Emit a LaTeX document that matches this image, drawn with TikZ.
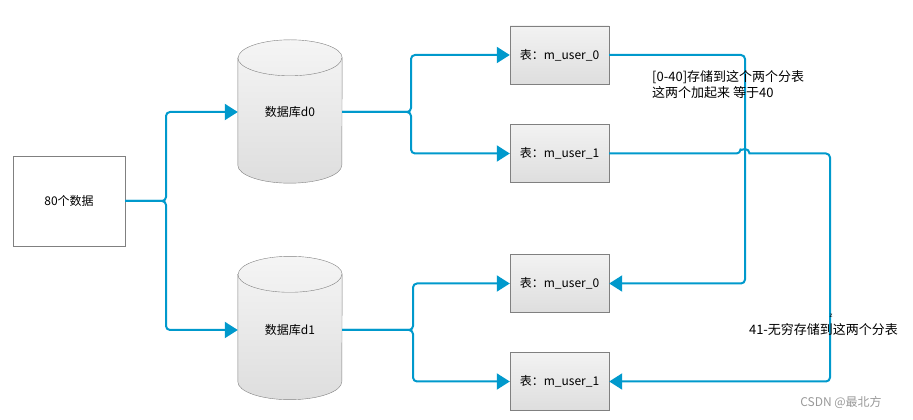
\documentclass[tikz,border=0pt]{standalone}
\usepackage{fontspec}
\setmainfont{Noto Sans CJK SC}
\usepackage{tikz}
\usetikzlibrary{arrows.meta,positioning,calc}
\definecolor{linkblue}{HTML}{0099CC}
\definecolor{edgegray}{HTML}{808080}
% cylinder drawn round a named node
\newcommand{\dbcyl}[1]{%
  \path[draw=edgegray, top color=black!4, bottom color=black!13]
    ($(#1.north west)+(0,-18)$) -- ($(#1.south west)+(0,18)$)
    arc[start angle=180, end angle=360, x radius=52pt, y radius=18pt]
    -- ($(#1.north east)+(0,-18)$)
    arc[start angle=0, end angle=180, x radius=52pt, y radius=18pt] -- cycle;
  \draw[edgegray] ($(#1.north west)+(0,-18)$)
    arc[start angle=180, end angle=360, x radius=52pt, y radius=18pt];
}

\begin{document}
\begin{tikzpicture}[
  x=1pt, y=1pt,
  >={Triangle[length=13pt, width=16pt]},
  box/.style={draw=edgegray, minimum width=112pt, minimum height=90pt,
              font=\fontsize{12}{15}\selectfont, inner sep=0pt},
  db/.style={minimum width=104pt, minimum height=143pt,
             font=\fontsize{12}{15}\selectfont, inner sep=0pt},
  tbl/.style={draw=edgegray, top color=black!5, bottom color=black!13,
              minimum width=99pt, minimum height=58pt,
              font=\fontsize{12}{15}\selectfont, inner sep=0pt},
  link/.style={draw=linkblue, line width=2pt, rounded corners=4pt},
  lbl/.style={font=\fontsize{13}{16}\selectfont, align=left, inner sep=0pt},
]
\useasboundingbox (0,0) rectangle (913,420);

% source box
\node[box] (src) at (69,219) {80个数据};

% databases
\node[db] (d0) at (290,308.5) {};
\node[db] (d1) at (290,92) {};
\dbcyl{d0}
\dbcyl{d1}
\node[font=\fontsize{12}{15}\selectfont] (d0t) at (290,308) {数据库d0};
\node[font=\fontsize{12}{15}\selectfont] (d1t) at (290,90) {数据库d1};

% tables
\node[tbl] (t0) at (559.5,365) {表：m\_user\_0};
\node[tbl] (t1) at (559.5,266.5) {表：m\_user\_1};
\node[tbl] (t2) at (559.5,136.5) {表：m\_user\_0};
\node[tbl] (t3) at (559.5,38.5) {表：m\_user\_1};

% source -> databases
\draw[link, ->] (src.east) -- (166,219) |- (d0.west |- d0t);
\draw[link, ->] (src.east) -- (166,219) |- (d1.west |- d1t);

% databases -> tables
\draw[link, ->] (d0.east |- d0t) -- (411,308) |- (t0.west);
\draw[link, ->] (d0.east |- d0t) -- (411,308) |- (t1.west);
\draw[link, ->] (d1.east |- d1t) -- (413,90) |- (t2.west);
\draw[link, ->] (d1.east |- d1t) -- (413,90) |- (t3.west);

% db0 tables -> db1 tables
\draw[link, ->] (t0.east) -- (745,365) -- (745,136.5) -- (t2.east);
\draw[link, ->] (t1.east) -- (740.5,266.5) [sharp corners]
  arc[start angle=180, end angle=0, radius=4.5pt] [rounded corners=4pt]
  -- (830,266.5) -- (830,38.5) -- (t3.east);

% labels
\node[lbl, anchor=west] (note0) at (652,335) {[0-40]存储到这个两个分表\\这两个加起来 等于40};
\node[font=\fontsize{6}{7}\selectfont, inner sep=0pt] (zmark) at (831,104) {z};
\node[lbl] (note1) at (823.5,90) {41-无穷存储到这两个分表};
\node[font=\fontsize{12}{15}\selectfont, text=black!40, inner sep=0pt] (mark) at (841,18) {CSDN @最北方};
\end{tikzpicture}
\end{document}
